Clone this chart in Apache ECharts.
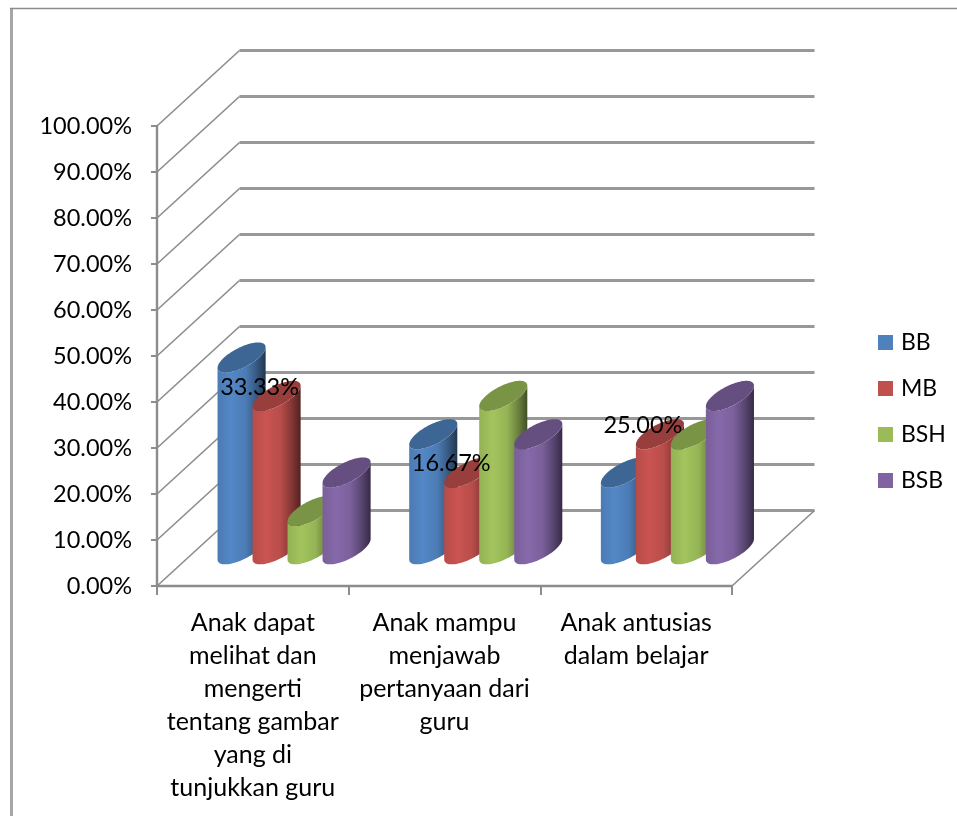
<!DOCTYPE html>
<html>
<head>
<meta charset="utf-8">
<style>html,body{margin:0;padding:0;background:#fff}#chart{width:957px;height:816px}</style>
<script src="https://cdn.jsdelivr.net/npm/echarts@6/dist/echarts.min.js"></script>
</head>
<body>
<div id="chart"></div>
<script>
// Share of children per assessment level, one cluster per observed indicator.
const categories = [
  'Anak dapat\nmelihat dan\nmengerti\ntentang gambar\nyang di\ntunjukkan guru',
  'Anak mampu\nmenjawab\npertanyaan dari\nguru',
  'Anak antusias\ndalam belajar'
];
const seriesNames = ['BB', 'MB', 'BSH', 'BSB'];
const bbValues = [41.67, 25.00, 16.67];
const mbValues = [33.33, 16.67, 25.00];
const bshValues = [8.33, 33.33, 25.00];
const bsbValues = [16.67, 25.00, 33.33];
const yTicks = [0, 10, 20, 30, 40, 50, 60, 70, 80, 90, 100];

const seriesValues = [bbValues, mbValues, bshValues, bsbValues];
const seriesColors = ['#4F81BD', '#C0504D', '#9BBB59', '#8064A2'];

// Oblique projection of the chart box: how far the back wall sits from the front plane.
const DEPTH_X = 82.5, DEPTH_Y = -75.5;
// Cylinder diameter as a share of a category band, and of the box depth.
const BAR_SHARE = 0.1826, DEPTH_SHARE = 0.4;
const FONT = 'Lato, "Open Sans", sans-serif';

function shade(hex, k) {
  const n = parseInt(hex.slice(1), 16);
  const ch = s => Math.min(255, Math.round(((n >> s) & 255) * k));
  return `rgb(${ch(16)},${ch(8)},${ch(0)})`;
}

// Point on the sheared ellipse of a cylinder's cross-section.
function ellipsePoint(cx, cy, w, t) {
  const vx = DEPTH_X * DEPTH_SHARE, vy = DEPTH_Y * DEPTH_SHARE;
  return [cx + Math.cos(t) * w / 2 + Math.sin(t) * vx / 2,
          cy + Math.sin(t) * vy / 2];
}

function cylinderCenter(api, seriesIndex, catIndex, value) {
  const band = api.size([1, 0])[0];
  const w = band * BAR_SHARE;
  const p = api.coord([catIndex, value]);
  return {
    w,
    x: p[0] + (seriesIndex - 1.5) * w + DEPTH_X / 2,
    y: p[1] + DEPTH_Y / 2 + 1
  };
}

function renderCylinder(seriesIndex) {
  return function (params, api) {
    const catIndex = api.value(0), value = api.value(1);
    const top = cylinderCenter(api, seriesIndex, catIndex, value);
    const base = cylinderCenter(api, seriesIndex, catIndex, 0);
    const color = seriesColors[seriesIndex];
    const w = top.w;
    const vx = DEPTH_X * DEPTH_SHARE;
    // Parameter angle of the right silhouette tangent point on the ellipse.
    const tRight = Math.atan2(vx, w);
    const steps = 48;
    const body = [], cap = [];
    // Near half of the base ellipse, from right silhouette round to left.
    for (let i = 0; i <= steps; i++) {
      body.push(ellipsePoint(base.x, base.y, w, tRight - Math.PI * i / steps));
    }
    // Up the left side, then across the top ellipse back to the right silhouette.
    for (let i = 0; i <= steps; i++) {
      body.push(ellipsePoint(top.x, top.y, w, tRight - Math.PI + Math.PI * i / steps));
    }
    for (let i = 0; i < steps * 2; i++) {
      cap.push(ellipsePoint(top.x, top.y, w, Math.PI * i / steps));
    }
    return {
      type: 'group',
      children: [
        {
          type: 'polygon',
          shape: { points: body },
          style: {
            fill: new echarts.graphic.LinearGradient(0, 0, 1, 0, [
              { offset: 0, color: shade(color, 0.95) },
              { offset: 0.28, color: shade(color, 1.05) },
              { offset: 0.58, color: shade(color, 0.96) },
              { offset: 0.82, color: shade(color, 0.68) },
              { offset: 1, color: shade(color, 0.42) }
            ])
          }
        },
        { type: 'polygon', shape: { points: cap }, style: { fill: shade(color, 0.79) } }
      ]
    };
  };
}

// Data labels sit against the upper left of the MB cylinders.
function renderValueLabel(params, api) {
  const c = cylinderCenter(api, 1, api.value(0), api.value(1));
  return {
    type: 'text',
    x: c.x - 17,
    y: c.y - 9,
    style: {
      text: api.value(1).toFixed(2) + '%',
      fill: '#000',
      font: '23.5px ' + FONT,
      align: 'center',
      verticalAlign: 'middle'
    }
  };
}

// Side and back wall gridlines plus the floor outline.
function renderWalls(params, api) {
  const box = params.coordSys;
  const y = api.coord([0, api.value(0)])[1];
  const x0 = box.x, x1 = box.x + box.width;
  const children = [
    { type: 'line', shape: { x1: x0, y1: y, x2: x0 + DEPTH_X, y2: y + DEPTH_Y },
      style: { stroke: '#8c8c8c', lineWidth: 1.6 } },
    { type: 'line', shape: { x1: x0 + DEPTH_X, y1: y + DEPTH_Y, x2: x1 + DEPTH_X, y2: y + DEPTH_Y },
      style: { stroke: '#989898', lineWidth: 2.8 } }
  ];
  if (api.value(0) === 0) {
    children.push({ type: 'line', shape: { x1: x1, y1: y, x2: x1 + DEPTH_X, y2: y + DEPTH_Y },
      style: { stroke: '#8c8c8c', lineWidth: 1.6 } });
  }
  return { type: 'group', children };
}

const cylinderSeries = seriesNames.map((name, i) => ({
  name,
  type: 'custom',
  coordinateSystem: 'cartesian2d',
  z: 3 + i,
  itemStyle: { color: seriesColors[i] },
  renderItem: renderCylinder(i),
  encode: { x: 0, y: 1 },
  clip: false,
  data: seriesValues[i].map((v, c) => [c, v])
}));

const chart = echarts.init(document.getElementById('chart'), null, { renderer: 'canvas' });
chart.setOption({
  animation: false,
  backgroundColor: '#fff',
  textStyle: { fontFamily: FONT },
  grid: { left: 157, top: 126, width: 575, height: 460, containLabel: false },
  legend: {
    orient: 'vertical',
    left: 873,
    top: 326,
    icon: 'rect',
    itemWidth: 15,
    itemHeight: 15,
    itemGap: 23,
    textStyle: { fontSize: 23, color: '#000', fontFamily: FONT, padding: [2, 0, 0, 3] },
    data: seriesNames,
    selectedMode: false
  },
  xAxis: {
    type: 'category',
    data: categories,
    boundaryGap: true,
    axisLine: { lineStyle: { color: '#8c8c8c', width: 2.4 } },
    axisTick: { show: true, length: 9, alignWithLabel: false, lineStyle: { color: '#8c8c8c', width: 2 } },
    axisLabel: { interval: 0, margin: 20, fontSize: 25, lineHeight: 33, color: '#000', fontFamily: FONT, align: 'center' },
    splitLine: { show: false }
  },
  yAxis: {
    type: 'value',
    min: 0,
    max: 100,
    interval: 10,
    axisLine: { show: true, lineStyle: { color: '#8c8c8c', width: 2.4 } },
    axisTick: { show: true, length: 6, lineStyle: { color: '#8c8c8c', width: 2 } },
    axisLabel: { margin: 25, fontSize: 23.5, color: '#000', fontFamily: FONT, padding: [8, 0, 0, 0], formatter: v => v.toFixed(2) + '%' },
    splitLine: { show: false }
  },
  graphic: [
    { type: 'line', silent: true, z: 0, shape: { x1: 11.5, y1: 8, x2: 11.5, y2: 816 }, style: { stroke: '#a6a6a6', lineWidth: 3 } },
    { type: 'line', silent: true, z: 0, shape: { x1: 10, y1: 8.5, x2: 957, y2: 8.5 }, style: { stroke: '#8c8c8c', lineWidth: 1.4 } }
  ],
  series: [
    {
      name: 'walls',
      type: 'custom',
      coordinateSystem: 'cartesian2d',
      z: 1,
      clip: false,
      renderItem: renderWalls,
      encode: { y: 0 },
      data: yTicks.map(v => [v])
    },
    ...cylinderSeries,
    {
      name: 'labels',
      type: 'custom',
      coordinateSystem: 'cartesian2d',
      z: 10,
      clip: false,
      renderItem: renderValueLabel,
      encode: { x: 0, y: 1 },
      data: mbValues.map((v, c) => [c, v])
    }
  ]
});
</script>
</body>
</html>
